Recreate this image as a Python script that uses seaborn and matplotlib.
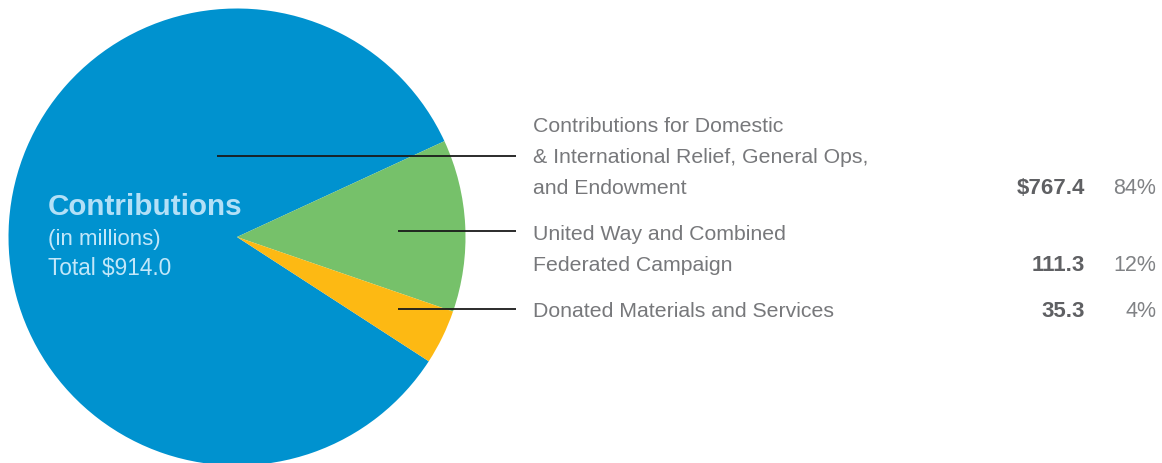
import matplotlib
matplotlib.use("Agg")
import matplotlib.pyplot as plt
import seaborn as sns

# contributions in millions
categories = [
    "Contributions for Domestic\n& International Relief, General Ops,\nand Endowment",
    "United Way and Combined\nFederated Campaign",
    "Donated Materials and Services",
]
amounts = [767.4, 111.3, 35.3]
amount_labels = ["$767.4", "111.3", "35.3"]
pct_labels = ["84%", "12%", "4%"]
total_label = "Total $914.0"

colors = ["#0092CF", "#76C16A", "#FDB913"]
text_gray = "#6D6E71"

sns.set_theme(style="white")
plt.rcParams["font.family"] = ["Liberation Sans", "DejaVu Sans"]

W, H = 1162, 463
fig = plt.figure(figsize=(W / 100, H / 100), dpi=100)
ax = fig.add_axes([0, 0, 1, 1])


def py(y):
    # pixel row (from top) to data y
    return H - y


cx, cy, r = 237, py(237), 228.5
total = sum(amounts)
blue_deg = amounts[0] / total * 360
ax.pie(amounts, colors=colors, center=(cx, cy), radius=r,
       startangle=24.8 + blue_deg, counterclock=False,
       wedgeprops=dict(linewidth=0), frame=True)
ax.set_xlim(0, W)
ax.set_ylim(0, H)
ax.set_aspect("equal")
ax.axis("off")

# centre labels inside the pie
ax.text(48, py(215), "Contributions", color="#B3E0F7", fontsize=21.3,
        fontweight="bold", va="baseline", ha="left")
ax.text(48, py(245), "(in millions)", color="#C2E7F9", fontsize=16,
        va="baseline", ha="left")
ax.text(48, py(275), total_label, color="#C2E7F9", fontsize=16.3,
        va="baseline", ha="left")

# leader lines
leaders = [(217, 155.5), (398, 231), (398, 309)]
for x0, yy in leaders:
    ax.plot([x0, 516], [py(yy), py(yy)], color="#1a1a1a", lw=1.3,
            solid_capstyle="butt")

# right hand labels
first_baselines = [132, 240, 317]
line_step = 31
for label, amt, pct, b in zip(categories, amount_labels, pct_labels, first_baselines):
    lines = label.split("\n")
    for i, ln in enumerate(lines):
        ax.text(533, py(b + i * line_step), ln, color="#77787B", fontsize=15.3,
                va="baseline", ha="left")
    last = py(b + (len(lines) - 1) * line_step)
    ax.text(1085, last, amt, color="#5f6063", fontsize=16,
            fontweight="bold", va="baseline", ha="right")
    ax.text(1156, last, pct, color="#808285", fontsize=15.5,
            va="baseline", ha="right")

fig.savefig("out.png", dpi=100)
